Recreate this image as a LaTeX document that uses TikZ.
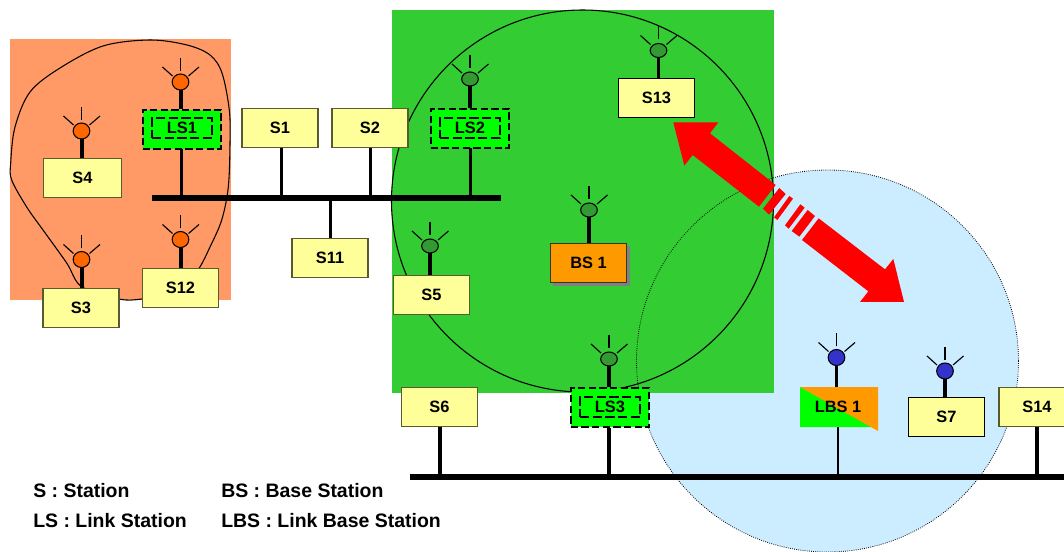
\documentclass[tikz,border=0pt]{standalone}
\usepackage{fontspec}
\setmainfont{Liberation Sans}
\usetikzlibrary{shapes.geometric,calc}
\definecolor{zoneorange}{HTML}{FF9966}
\definecolor{zonegreen}{HTML}{33CC33}
\definecolor{zoneblue}{HTML}{CCECFF}
\definecolor{boxyellow}{HTML}{FFFF99}
\definecolor{boxedge}{HTML}{5A5A30}
\definecolor{lsgreen}{HTML}{00FF00}
\definecolor{bsorange}{HTML}{FF9900}
\definecolor{antorange}{HTML}{FF6600}
\definecolor{antgreen}{HTML}{339933}
\definecolor{antblue}{HTML}{3333CC}
\definecolor{arrowred}{HTML}{FF0000}
\tikzset{
  stationbox/.style={draw=boxedge,line width=.8pt,fill=boxyellow,inner sep=0pt,minimum width=57pt,minimum height=29.5pt,font=\bfseries\fontsize{12.3}{14}\selectfont},
  lsbox/.style={draw=black,line width=1.6pt,dash pattern=on 5.5pt off 2.5pt,fill=lsgreen,inner sep=0pt,minimum width=59pt,minimum height=29pt},
  lsinner/.style={draw=black,line width=.9pt,dash pattern=on 7pt off 2.5pt,inner sep=0pt,minimum width=45pt,minimum height=15pt,font=\bfseries\fontsize{12.3}{14}\selectfont},
  antenna/.style={draw=black,line width=.8pt,ellipse,inner sep=0pt,minimum width=12.5pt,minimum height=12pt},
  antflat/.style={antenna,minimum height=10.5pt},
  stem/.style={line width=2.8pt},
  thinstem/.style={line width=1.5pt},
  rod/.style={line width=.85pt},
  busbar/.style={fill=black,inner sep=0pt},
  legend/.style={anchor=west,inner sep=0pt,font=\bfseries\fontsize{14.6}{16}\selectfont},
  zoneline/.style={black,line width=.8pt},
  zonedots/.style={black,line width=.6pt,densely dotted},
  redbar/.style={fill=arrowred,draw=none}
}
% name, x, y, style, colour
\newcommand{\antn}[5]{%
  \draw[rod] ($(#2,#3)+(0,-11)$) -- ++(0,-13);
  \draw[rod] ($(#2,#3)+(-8,-6)$) -- ++(-10,-9);
  \draw[rod] ($(#2,#3)+(8,-6)$) -- ++(10.5,-9);
  \node[#4,fill=#5] (#1) at (#2,#3) {};
}
\begin{document}
\begin{tikzpicture}[x=.75pt,y=-.75pt]
\clip (0,0) rectangle (1064,552);
% zones
\fill[zoneorange] (10,39) rectangle (231,300);
\fill[zoneblue] (827.5,361) circle (191);
\fill[zonegreen] (392,10) rectangle (774,393);
\draw[zonedots] (827.5,361) circle (191);
\draw[zoneline] (582.5,201) circle (191);
\draw[zoneline] plot[smooth cycle,tension=.55] coordinates {(81.7,286.7) (66.7,263) (43,230) (26.7,207) (11.7,180) (10.7,163) (15,127) (30,92) (60,68) (103,46) (150,40) (187,45) (210,55) (222,73) (229.3,110) (230,143) (228.3,187) (221.7,220) (210,247) (199.3,268) (182,292) (142,299) (119,299)};
% buses
\node[busbar,minimum width=261.75pt,minimum height=4.5pt] (bus1) at (326.5,198) {};
\node[busbar,minimum width=490pt,minimum height=4pt] (bus2) at (737,477) {};
% stems to buses
\coordinate (ls1c) at (181.5,149);
\coordinate (s1c) at (281.5,147);
\coordinate (s2c) at (370.5,147);
\coordinate (ls2c) at (470.5,148);
\coordinate (s6c) at (440,427);
\coordinate (ls3c) at (609,428);
\coordinate (s14c) at (1037,427);
\draw[stem] (ls1c) -- (ls1c |- bus1.north);
\draw[stem] (s1c) -- (s1c |- bus1.north);
\draw[stem] (s2c) -- (s2c |- bus1.north);
\draw[stem] (ls2c) -- (ls2c |- bus1.north);
\draw[stem] (330.5,238) coordinate (s11c) -- (s11c |- bus1.south);
\draw[stem] (s6c) -- (s6c |- bus2.north);
\draw[stem] (ls3c) -- (ls3c |- bus2.north);
\draw[stem] (s14c) -- (s14c |- bus2.north);
\draw[thinstem] (838,427) coordinate (lbsc) -- (lbsc |- bus2.north);
% stations
\node[stationbox,minimum width=59pt] (S4) at (82.5,178) {S4};
\node[stationbox] (S1) at (280,128) {S1};
\node[stationbox] (S2) at (370,128) {S2};
\node[stationbox] (S3) at (81,308) {S3};
\node[stationbox] (S12) at (180.5,288) {S12};
\node[stationbox] (S11) at (330,258) {S11};
\node[stationbox,draw=black] (S13) at (656.5,98) {S13};
\node[stationbox] (S5) at (431.5,295) {S5};
\node[stationbox] (S6) at (439.5,407) {S6};
\node[stationbox,draw=black] (S7) at (946.5,417) {S7};
\node[stationbox] (S14) at (1037,407) {S14};
% link stations
\node[lsbox] (LS1) at (182,129.5) {};
\node[lsinner] (LS1i) at (182,128) {LS1};
\node[lsbox] (LS2) at (470,128.5) {};
\node[lsinner] (LS2i) at (470,128) {LS2};
\node[lsbox] (LS3) at (610,407.5) {};
\node[lsinner] (LS3i) at (610,407) {LS3};
% base stations
\fill[gray] (553,246) rectangle (630,286);
\node[stationbox,draw=boxedge!60!black,fill=bsorange] (BS1) at (588.5,263) {BS 1};
\fill[lsgreen] (800,387) -- (878,427) -- (800,427) -- cycle;
\fill[bsorange] (800,387) -- (878,387) -- (878,431) -- cycle;
\node[inner sep=0pt,minimum width=58.5pt,minimum height=30pt,font=\bfseries\fontsize{12.3}{14}\selectfont] (LBS1) at (838,407) {LBS 1};
% stems to antennas, then antennas
\coordinate (p4) at (82,131);
\coordinate (pl1) at (181,82);
\coordinate (p3) at (82,259.5);
\coordinate (p12) at (181,239.5);
\coordinate (pl2) at (470,79);
\coordinate (p13) at (658.5,50.5);
\coordinate (pb1) at (589,210);
\coordinate (p5) at (430,246);
\coordinate (pl3) at (609,359);
\coordinate (plb) at (836.5,357.5);
\coordinate (p7) at (945,371);
\draw[stem] (p4) -- (p4 |- S4.north);
\draw[stem] (pl1) -- (pl1 |- LS1.north);
\draw[stem] (p3) -- (p3 |- S3.north);
\draw[stem] (p12) -- (p12 |- S12.north);
\draw[stem] (pl2) -- (pl2 |- LS2.north);
\draw[stem] (p13) -- (p13 |- S13.north);
\draw[stem] (pb1) -- (pb1 |- BS1.north);
\draw[stem] (p5) -- (p5 |- S5.north);
\draw[stem] (pl3) -- (pl3 |- LS3.north);
\draw[stem] (plb) -- (plb |- LBS1.north);
\draw[stem] (p7) -- (p7 |- S7.north);
\antn{a4}{81.5}{131}{antenna}{antorange}
\antn{al1}{180.5}{82}{antenna}{antorange}
\antn{a3}{81.5}{259.5}{antenna}{antorange}
\antn{a12}{180.5}{239.5}{antenna}{antorange}
\antn{al2}{470}{79}{antflat}{antgreen}
\antn{a13}{658.5}{50.5}{antflat}{antgreen}
\antn{ab1}{589}{210}{antflat}{antgreen}
\antn{a5}{430}{246}{antflat}{antgreen}
\antn{al3}{609}{359}{antflat}{antgreen}
\antn{alb}{836.5}{357.5}{antenna}{antblue}
\antn{a7}{945}{371}{antenna}{antblue}
% red double arrow
\begin{scope}[shift={(620,100)},x=.25pt,y=-.25pt]
\fill[redbar] (160,67) -- (295,67) -- (270,100) -- (467,255) -- (417,320) -- (218,165) -- (193,197) -- cycle;
\fill[redbar] (478,264) -- (497,282) -- (447,344) -- (429,326) -- cycle;
\fill[redbar] (508,288) -- (519,296) -- (472,360) -- (462,352) -- cycle;
\fill[redbar] (541,313) -- (554,323) -- (506,386) -- (495,376) -- cycle;
\fill[redbar] (563,330) -- (585,348) -- (538,410) -- (515,393) -- cycle;
\fill[redbar] (596,355) -- (795,508) -- (820,477) -- (852,606) -- (720,606) -- (745,574) -- (546,420) -- cycle;
\end{scope}
% legend
\node[legend] (l1) at (33,491) {S : Station};
\node[legend] (l2) at (221,491) {BS : Base Station};
\node[legend] (l3) at (33,521) {LS : Link Station};
\node[legend] (l4) at (221,521) {LBS : Link Base Station};
\end{tikzpicture}
\end{document}
